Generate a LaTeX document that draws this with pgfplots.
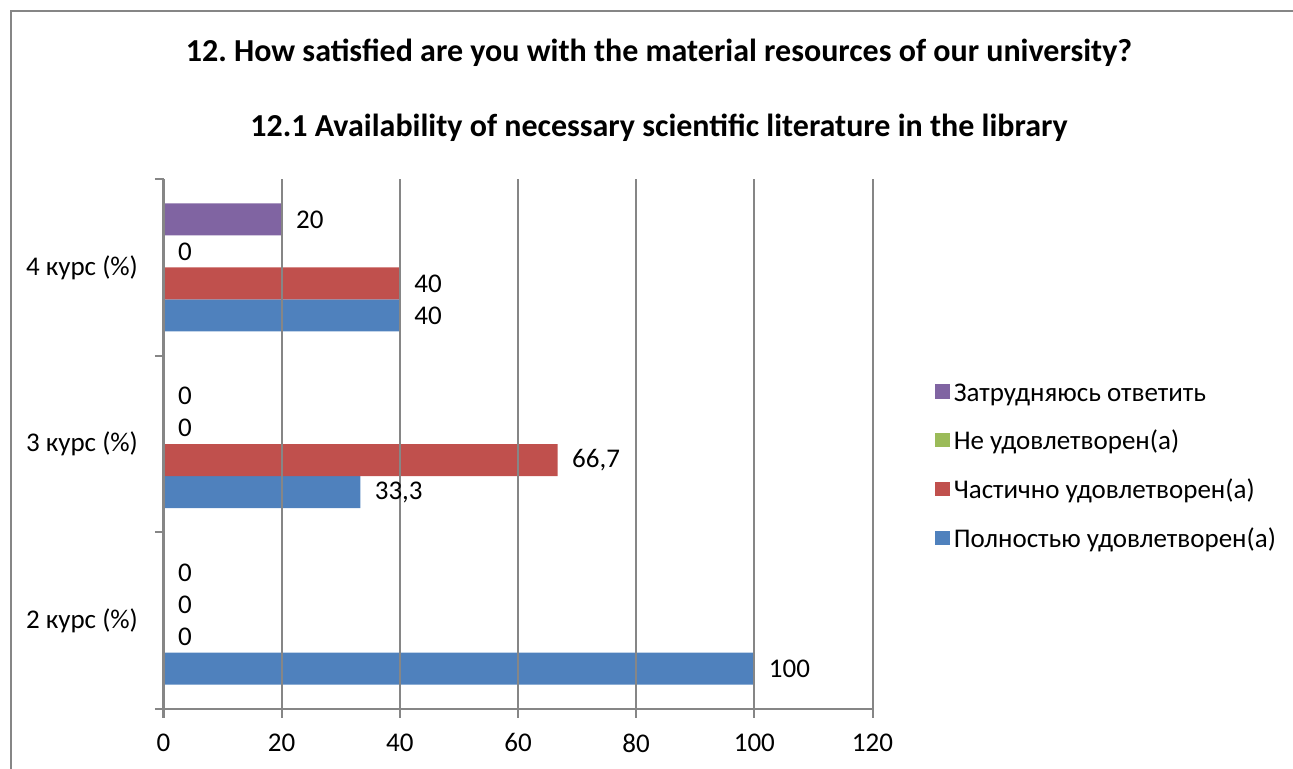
\documentclass[border=0pt]{standalone}
\usepackage{pgfplots}
\pgfplotsset{compat=1.18}
\usepackage{fontspec}
\setmainfont{Carlito}
\definecolor{sBlue}{HTML}{4F81BD}
\definecolor{sRed}{HTML}{C0504D}
\definecolor{sGreen}{HTML}{9BBB59}
\definecolor{sPurple}{HTML}{8064A2}
\definecolor{axgray}{HTML}{868686}
\frenchspacing
\begin{document}
\begin{tikzpicture}[x=1pt,y=1pt]
\path[use as bounding box] (0,0) rectangle (646.5,-384.5);
\draw[axgray, line width=1pt] (5.5,-384.5) -- (5.5,-5.5) -- (646.5,-5.5);
\node[font=\fontsize{16}{19}\selectfont\bfseries, anchor=base] at (329.5,-30.85) {12. How satisfied are you with the material resources of our university?};
\node[font=\fontsize{16}{19}\selectfont\bfseries, anchor=base] at (329.5,-68.35) {12.1 Availability of necessary scientific literature in the library};
\begin{axis}[
  at={(81.75pt,-354.5pt)}, anchor=south west,
  scale only axis, width=354.5pt, height=265pt,
  xbar, bar width=16pt,
  xmin=0, xmax=120, xtick={0,20,40,60,80,100,120},
  ymin=-0.5, ymax=2.5,
  ytick={-0.5,0.5,1.5,2.5}, yticklabels={},
  extra y ticks={0,1,2},
  extra y tick labels={2 курс (\%),3 курс (\%),4 курс (\%)},
  extra y tick style={tick style={draw=none}, yticklabel style={xshift=-5pt}},
  axis lines=left, axis line style={-, draw=axgray, line width=1pt},
  tick style={draw=axgray, line width=1pt},
  tick align=outside, major tick length=4.25pt,
  xmajorgrids, grid style={draw=axgray, line width=1pt},
  axis on top,
  tick label style={font=\fontsize{13.5}{16}\selectfont, text=black},
  xticklabel style={yshift=-4.5pt},
  point meta=x,
  nodes near coords,
  nodes near coords style={font=\fontsize{13.5}{16}\selectfont, anchor=west, xshift=3.75pt, text=black},
  legend style={at={(1.088,0.461)}, anchor=west, draw=none, fill=none, inner sep=0pt,
    font=\fontsize{13.5}{16}\selectfont, row sep=7.75pt},
  legend cell align=left,
  reverse legend,
  legend image code/.code={\fill[#1] (0pt,-3.6pt) rectangle (7.25pt,3.6pt);},
  /pgf/number format/use comma,
  /pgf/number format/assume math mode=true,
]
\addplot[fill=sBlue, draw=none, bar shift=-24pt] coordinates {(100,0) (33.3,1) (40,2)};
\addlegendentry{\strut Полностью удовлетворен(а)}
\addplot[fill=sRed, draw=none, bar shift=-8pt] coordinates {(0,0) (66.7,1) (40,2)};
\addlegendentry{\strut Частично удовлетворен(а)}
\addplot[fill=sGreen, draw=none, bar shift=8pt] coordinates {(0,0) (0,1) (0,2)};
\addlegendentry{\strut Не удовлетворен(а)}
\addplot[fill=sPurple, draw=none, bar shift=24pt] coordinates {(0,0) (0,1) (20,2)};
\addlegendentry{\strut Затрудняюсь ответить}
\end{axis}
\end{tikzpicture}
\end{document}
